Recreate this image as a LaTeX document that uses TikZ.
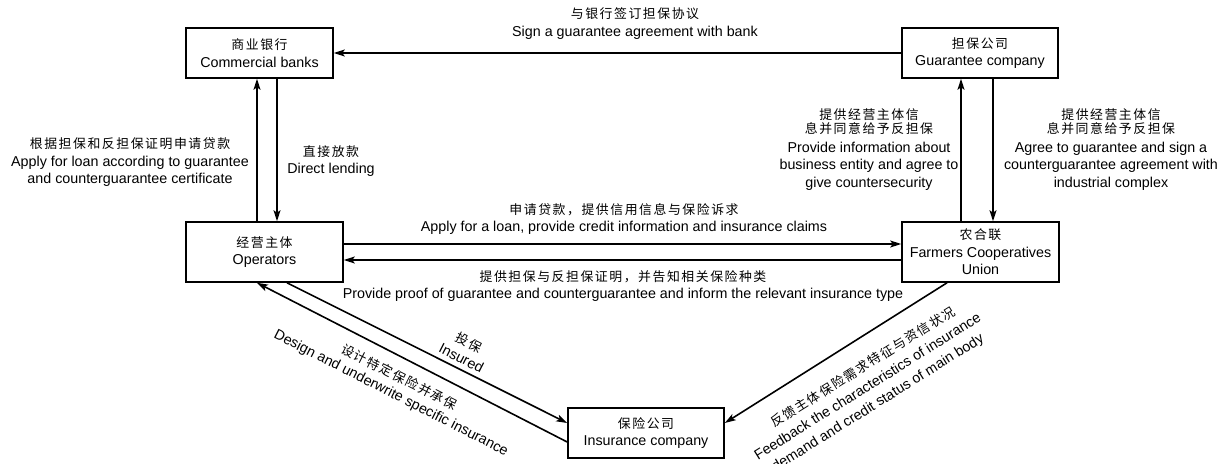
\documentclass[tikz,border=0pt]{standalone}
\usepackage{fontspec}
\setmainfont{Liberation Sans}
\newfontfamily\cjk[Scale=0.9,LetterSpace=12]{Noto Sans CJK SC}
\usetikzlibrary{arrows.meta}
\newcommand\zh[1]{{\cjk #1}}
\begin{document}
\begin{tikzpicture}[x=1pt,y=1pt,
  box/.style={draw, line width=1.6pt, align=center, inner sep=0pt,
    font=\fontsize{14.3}{17.5}\selectfont},
  arr/.style={line width=1.6pt, -{Stealth[length=11pt,width=7pt,inset=2.5pt]}},
  lbl/.style={align=center, inner sep=0pt, font=\fontsize{14.3}{17.5}\selectfont}]
\useasboundingbox (0,0) rectangle (1228,-463);
\fill[white] (0,0) rectangle (1228,-463);

% boxes
\node[box, minimum width=147pt, minimum height=50pt] (bank) at (259.5,-53) {\zh{商业银行}\\Commercial banks};
\node[box, minimum width=156pt, minimum height=50pt] (guar) at (980,-53) {\zh{担保公司}\\Guarantee company};
\node[box, minimum width=157pt, minimum height=60pt] (ops) at (264.5,-252) {\zh{经营主体}\\Operators};
\node[box, minimum width=157pt, minimum height=60pt] (farm) at (980.5,-252) {\zh{农合联}\\Farmers Cooperatives\\Union};
\node[box, minimum width=156pt, minimum height=50pt] (ins) at (646,-433) {\zh{保险公司}\\Insurance company};

% connectors
\draw[arr] (guar.west) -- (bank.east);
\draw[arr] ([xshift=-7.5pt]ops.north) -- ([xshift=-7.5pt]ops.north |- bank.south);
\draw[arr] ([xshift=12.5pt]ops.north |- bank.south) -- ([xshift=12.5pt]ops.north);
\draw[arr] ([xshift=-19.5pt]farm.north) -- ([xshift=-19.5pt]farm.north |- guar.south);
\draw[arr] ([xshift=12.5pt]farm.north |- guar.south) -- ([xshift=12.5pt]farm.north);
\draw[arr] ([yshift=8pt]ops.east) -- ([yshift=8pt]ops.east -| farm.west);
\draw[arr] ([yshift=-8pt]ops.east -| farm.west) -- ([yshift=-8pt]ops.east);
\draw[arr] ([xshift=22.5pt]ops.south) -- ([yshift=10pt]ins.west);
\draw[arr] ([yshift=-9pt]ins.west) -- ([xshift=-7.5pt]ops.south);
\draw[arr] ([xshift=-33.5pt]farm.south) -- ([yshift=10pt]ins.east);

% labels
\node[lbl] (l1) at (635,-23.5) {\zh{与银行签订担保协议}\\Sign a guarantee agreement with bank};
\node[lbl] (l2) at (130,-162.5) {\zh{根据担保和反担保证明申请贷款}\\Apply for loan according to guarantee\\and counterguarantee certificate};
\node[lbl] (l3) at (331,-161) {\zh{直接放款}\\Direct lending};
\node[lbl] (l4) at (869,-149.5) {\zh{提供经营主体信}\\[-3.5pt]\zh{息并同意给予反担保}\\[1pt]Provide information about\\business entity and agree to\\give countersecurity};
\node[lbl] (l5) at (1111,-149.5) {\zh{提供经营主体信}\\[-3.5pt]\zh{息并同意给予反担保}\\[1pt]Agree to guarantee and sign a\\counterguarantee agreement with\\industrial complex};
\node[lbl] (l6) at (624,-219) {\zh{申请贷款，提供信用信息与保险诉求}\\Apply for a loan, provide credit information and insurance claims};
\node[lbl] (l7) at (623,-286) {\zh{提供担保与反担保证明，并告知相关保险种类}\\Provide proof of guarantee and counterguarantee and inform the relevant insurance type};
\node[lbl, rotate=-27] (l8) at (465.5,-350) {\zh{投保}\\Insured};
\node[lbl, rotate=-27] (l9) at (395,-385.5) {\zh{设计特定保险并承保}\\Design and underwrite specific insurance};
\node[lbl, rotate=32, font=\fontsize{14.3}{19}\selectfont] (l10) at (868,-387) {\hspace*{12pt}\zh{反馈主体保险需求特征与资信状况}\\Feedback the characteristics of insurance\\demand and credit status of main body};
\end{tikzpicture}
\end{document}
